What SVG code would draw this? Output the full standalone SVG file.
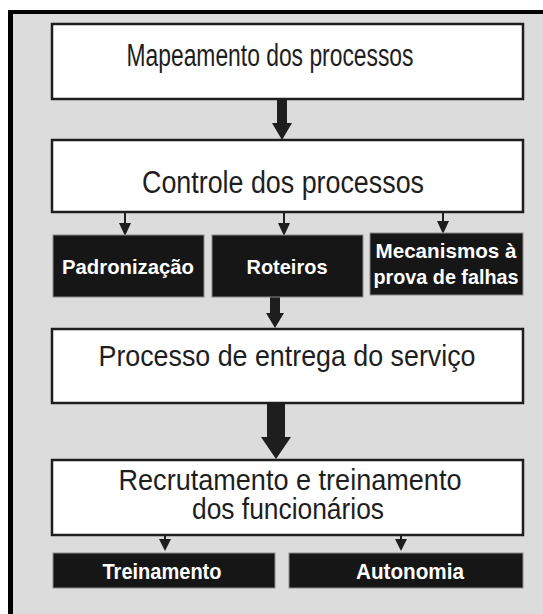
<svg xmlns="http://www.w3.org/2000/svg" width="543" height="614" viewBox="0 0 543 614">
<style>
.box{fill:#ffffff;stroke:#1e1e1e;stroke-width:2.5}
.dark{fill:#161616;stroke:#8a8a8a;stroke-width:1}
.t{font-family:"Liberation Sans",Arial,sans-serif;font-size:31px;fill:#1e1e1e;text-anchor:middle}
.t2{font-size:29px}
.w{font-family:"Liberation Sans",Arial,sans-serif;font-size:21px;font-weight:bold;fill:#ffffff;text-anchor:middle}
.w2{font-size:22px}
.thin{stroke:#1e1e1e;stroke-width:2;fill:none}
.big{fill:#1e1e1e}
</style>
<rect x="0" y="0" width="543" height="614" fill="#ffffff"/>
<rect x="13" y="14" width="530" height="600" fill="#dcdcdc"/>
<rect x="8" y="10" width="535" height="4" fill="#000000"/>
<rect x="8" y="10" width="5" height="604" fill="#000000"/>

<g id="connectors">
<polygon class="big" points="277,99 287,99 287,123 292,123 282,140 272,123 277,123"/>
<polygon class="big" points="270,297 280,297 280,313 284,313 275,328 266,313 270,313"/>
<polygon class="big" points="267,403 285,403 285,437 291,437 276,459 261,437 267,437"/>
<path class="thin" d="M125,212 V224"/><polygon class="big" points="119,223 131,223 125,236"/>
<path class="thin" d="M284,212 V224"/><polygon class="big" points="278,223 290,223 284,236"/>
<path class="thin" d="M443,212 V222"/><polygon class="big" points="437,221 449,221 443,234"/>
<path class="thin" d="M165,535 V540"/><polygon class="big" points="159,539 171,539 165,551"/>
<path class="thin" d="M401,535 V540"/><polygon class="big" points="395,539 407,539 401,551"/>
</g>

<g id="n-mapeamento">
<rect class="box" x="52" y="24" width="471" height="75"/>
<text class="t" x="270" y="66" textLength="287" lengthAdjust="spacingAndGlyphs">Mapeamento dos processos</text>
</g>
<g id="n-controle">
<rect class="box" x="52" y="140" width="471" height="72"/>
<text class="t" x="283" y="193" textLength="282" lengthAdjust="spacingAndGlyphs">Controle dos processos</text>
</g>
<g id="n-padronizacao">
<rect class="dark" x="53" y="235" width="151" height="62"/>
<text class="w" x="128" y="274" textLength="132" lengthAdjust="spacingAndGlyphs">Padronização</text>
</g>
<g id="n-roteiros">
<rect class="dark" x="212" y="235" width="151" height="62"/>
<text class="w" x="287" y="274" textLength="81" lengthAdjust="spacingAndGlyphs">Roteiros</text>
</g>
<g id="n-mecanismos">
<rect class="dark" x="370" y="233" width="153" height="62"/>
<text class="w" x="446" y="258" textLength="141" lengthAdjust="spacingAndGlyphs">Mecanismos à</text>
<text class="w" x="446" y="284" textLength="145" lengthAdjust="spacingAndGlyphs">prova de falhas</text>
</g>
<g id="n-entrega">
<rect class="box" x="52" y="329" width="471" height="74"/>
<text class="t t2" x="287" y="366" textLength="377" lengthAdjust="spacingAndGlyphs">Processo de entrega do serviço</text>
</g>
<g id="n-recrutamento">
<rect class="box" x="52" y="460" width="471" height="75"/>
<text class="t t2" x="290" y="490" textLength="343" lengthAdjust="spacingAndGlyphs">Recrutamento e treinamento</text>
<text class="t t2" x="288" y="519" textLength="192" lengthAdjust="spacingAndGlyphs">dos funcionários</text>
</g>
<g id="n-treinamento">
<rect class="dark" x="53" y="553" width="222" height="35"/>
<text class="w w2" x="162" y="579" textLength="119" lengthAdjust="spacingAndGlyphs">Treinamento</text>
</g>
<g id="n-autonomia">
<rect class="dark" x="289" y="553" width="234" height="35"/>
<text class="w w2" x="410" y="579" textLength="108" lengthAdjust="spacingAndGlyphs">Autonomia</text>
</g>
</svg>
